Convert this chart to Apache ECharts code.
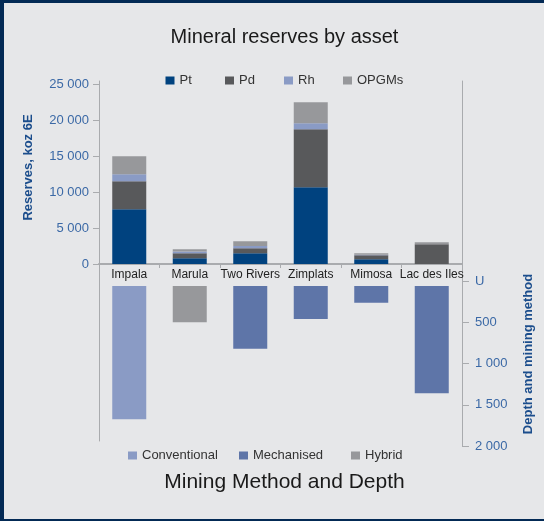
<!DOCTYPE html>
<html>
<head>
<meta charset="utf-8">
<script src="https://cdn.jsdelivr.net/npm/echarts@6/dist/echarts.min.js"></script>
<style>
html,body{margin:0;padding:0;background:#e6e7e9;}
#chart{position:absolute;left:0;top:0;width:544px;height:521px;}
#frame{position:absolute;left:0;top:0;width:544px;height:521px;box-sizing:border-box;border-left:4px solid #032a55;border-top:3px solid #032a55;border-bottom:2px solid #032a55;pointer-events:none;}
</style>
</head>
<body>
<div id="chart"></div>
<div id="frame"></div>
<script>
// ---- data ----
const categories = ['Impala', 'Marula', 'Two Rivers', 'Zimplats', 'Mimosa', 'Lac des Iles'];
const pt    = [7600, 800, 1490, 10650, 650, 0];
const pd    = [3900, 690, 690, 8050, 560, 2740];
const rh    = [950, 230, 320, 840, 80, 0];
const opgms = [2500, 320, 650, 2910, 200, 280];
const depthStart = [60, 60, 60, 60, 60, 60];
const depthEnd   = [1675, 500, 820, 460, 265, 1360];
const method = ['Conventional', 'Hybrid', 'Mechanised', 'Mechanised', 'Mechanised', 'Mechanised'];
const methods = ['Conventional', 'Mechanised', 'Hybrid'];

const FONT = '"Liberation Sans", Arial, Helvetica, sans-serif';
const AXIS = '#a9abae';
const BLUE_TXT = '#3b69a6';
const NAME_TXT = '#1b4d8c';
const colors = {Pt:'#00427f', Pd:'#58595b', Rh:'#8a9bc5', OPGMs:'#97989b',
  Conventional:'#8a9bc5', Mechanised:'#5e75a8', Hybrid:'#97989b'};

const fmt = v => {
  const s = String(Math.round(v));
  return s.replace(/\B(?=(\d{3})+(?!\d))/g, ' ');
};

const chart = echarts.init(document.getElementById('chart'), null, {renderer:'canvas'});

const topSeries = [['Pt', pt], ['Pd', pd], ['Rh', rh], ['OPGMs', opgms]].map(([n, d]) => ({
  name: n, type: 'bar', stack: 'metal', xAxisIndex: 0, yAxisIndex: 0,
  barWidth: 34, data: d, itemStyle: {color: colors[n]}, emphasis: {disabled: true}
}));

const baseSeries = {
  name: 'base', type: 'bar', stack: 'depth', xAxisIndex: 1, yAxisIndex: 1,
  barWidth: 34, data: depthStart, itemStyle: {color: 'rgba(0,0,0,0)'}, silent: true
};
const depthSeries = methods.map(m => ({
  name: m, type: 'bar', stack: 'depth', xAxisIndex: 1, yAxisIndex: 1,
  barWidth: 34,
  data: depthEnd.map((d, i) => method[i] === m ? d - depthStart[i] : '-'),
  itemStyle: {color: colors[m]}, emphasis: {disabled: true}
}));

function legendItem(name, left, top) {
  return {
    data: [name], left: left, top: top, padding: 0, orient: 'horizontal',
    icon: 'rect', itemWidth: 9, itemHeight: 8, itemGap: 0,
    textStyle: {fontFamily: FONT, fontSize: 13, color: '#333'}, selectedMode: false
  };
}

const option = {
  backgroundColor: '#e6e7e9',
  animation: false,
  textStyle: {fontFamily: FONT},
  legend: [
    legendItem('Pt', 165.5, 74),
    legendItem('Pd', 225, 74),
    legendItem('Rh', 284, 74),
    legendItem('OPGMs', 343, 74),
    legendItem('Conventional', 128, 449),
    legendItem('Mechanised', 239, 449),
    legendItem('Hybrid', 351, 449)
  ],
  grid: [
    {left: 99, top: 84, width: 363, height: 180},
    {left: 99, top: 281, width: 363, height: 165},
    {left: 99, top: 81, width: 363, height: 360}
  ],
  xAxis: [
    {gridIndex: 0, type: 'category', data: categories, boundaryGap: true,
     axisLine: {show: true, lineStyle: {color: AXIS, width: 2}},
     axisTick: {show: true, length: 4, lineStyle: {color: AXIS, width: 1}},
     axisLabel: {color: '#222', fontSize: 12, margin: 5, fontFamily: FONT, interval: 0}},
    {gridIndex: 1, type: 'category', data: categories, boundaryGap: true, show: false},
    {gridIndex: 2, type: 'value', show: false, min: 0, max: 1}
  ],
  yAxis: [
    {gridIndex: 0, type: 'value', min: 0, max: 25000, interval: 5000,
     axisLine: {show: true, lineStyle: {color: AXIS, width: 1}},
     axisTick: {show: true, length: 6, lineStyle: {color: AXIS}},
     axisLabel: {color: BLUE_TXT, fontSize: 13, margin: 10, fontFamily: FONT, formatter: fmt},
     splitLine: {show: false}},
    {gridIndex: 1, type: 'value', min: 0, max: 2000, interval: 500, inverse: true, position: 'right',
     axisLine: {show: true, lineStyle: {color: AXIS, width: 1}},
     axisTick: {show: true, length: 7, lineStyle: {color: AXIS}},
     axisLabel: {color: BLUE_TXT, fontSize: 13, margin: 13, fontFamily: FONT,
       formatter: v => v === 0 ? 'U' : fmt(v)},
     splitLine: {show: false}},
    {gridIndex: 2, type: 'value', min: 0, max: 1, position: 'left',
     axisLine: {show: true, lineStyle: {color: AXIS, width: 1}},
     axisTick: {show: false}, axisLabel: {show: false}, splitLine: {show: false}},
    {gridIndex: 2, type: 'value', min: 0, max: 1, position: 'right',
     axisLine: {show: true, lineStyle: {color: AXIS, width: 1}},
     axisTick: {show: false}, axisLabel: {show: false}, splitLine: {show: false}}
  ],
  graphic: [
    {type: 'text', left: null, x: 284.5, y: 37.5,
     style: {text: 'Mineral reserves by asset', font: '20px ' + FONT, fill: '#1a1a1a',
       textAlign: 'center', textVerticalAlign: 'middle'}},
    {type: 'text', x: 284.5, y: 482,
     style: {text: 'Mining Method and Depth', font: '21px ' + FONT, fill: '#1a1a1a',
       textAlign: 'center', textVerticalAlign: 'middle'}},
    {type: 'text', x: 28, y: 167.5, rotation: Math.PI / 2,
     style: {text: 'Reserves, koz 6E', font: 'bold 13px ' + FONT, fill: NAME_TXT,
       textAlign: 'center', textVerticalAlign: 'middle'}},
    {type: 'text', x: 528, y: 354, rotation: Math.PI / 2,
     style: {text: 'Depth and mining method', font: 'bold 13px ' + FONT, fill: NAME_TXT,
       textAlign: 'center', textVerticalAlign: 'middle'}}
  ],
  series: [...topSeries, baseSeries, ...depthSeries]
};
chart.setOption(option);
</script>
</body>
</html>
